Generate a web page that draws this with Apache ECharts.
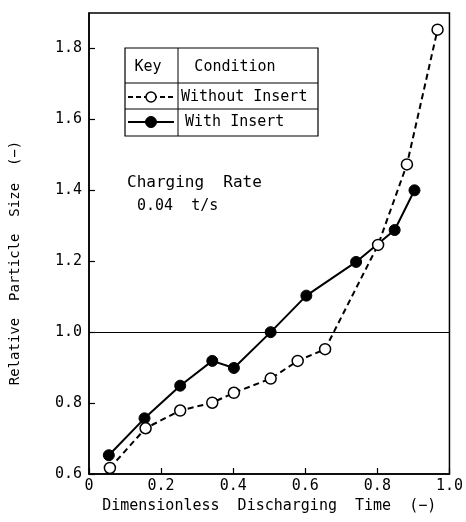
<!DOCTYPE html>
<html>
<head>
<meta charset="utf-8">
<script src="https://cdn.jsdelivr.net/npm/echarts@6/dist/echarts.min.js"></script>
<style>html,body{margin:0;padding:0;background:#fff}#c{width:466px;height:522px}</style>
</head>
<body>
<div id="c"></div>
<script>
var withoutX = [0.058, 0.157, 0.253, 0.342, 0.402, 0.504, 0.579, 0.655, 0.802, 0.882, 0.967];
var withoutY = [0.617, 0.729, 0.779, 0.801, 0.829, 0.869, 0.919, 0.952, 1.246, 1.473, 1.853];
var withX = [0.055, 0.154, 0.253, 0.342, 0.402, 0.504, 0.603, 0.741, 0.848, 0.903];
var withY = [0.653, 0.757, 0.849, 0.919, 0.899, 1.0, 1.103, 1.198, 1.288, 1.400];
var xTicks = [0, 0.2, 0.4, 0.6, 0.8, 1.0];
var yTicks = [0.6, 0.8, 1.0, 1.2, 1.4, 1.6, 1.8];
var refLine = 1.0;

function pairs(xs, ys){ return xs.map(function(x,i){ return [x, ys[i]]; }); }
var FONT = 'DejaVu Sans Mono';
var chart = echarts.init(document.getElementById('c'), null, {renderer:'canvas'});
var option = {
  animation:false,
  backgroundColor:'#fff',
  textStyle:{fontFamily:FONT, color:'#000'},
  grid:{left:89, right:14, top:13, bottom:48, show:true, borderColor:'#000', borderWidth:1.5, backgroundColor:'transparent'},
  xAxis:{
    type:'value', min:0, max:1.0, interval:0.2,
    name:'Dimensionless  Discharging  Time  (\u2212)', nameLocation:'middle', nameGap:23,
    nameTextStyle:{fontFamily:FONT, fontSize:15, color:'#000'},
    axisLine:{show:true, lineStyle:{color:'#000', width:1.5}},
    axisTick:{show:true, inside:true, length:6, lineStyle:{color:'#000', width:1.2}},
    splitLine:{show:false},
    axisLabel:{fontFamily:FONT, fontSize:15, color:'#000', margin:5,
      formatter:function(v){ return xTicks.indexOf(+v.toFixed(1))<0 ? '' : (v===0?'0':v.toFixed(1)); }}
  },
  yAxis:{
    type:'value', min:0.6, max:1.9, interval:0.2,
    axisLine:{show:true, lineStyle:{color:'#000', width:1.5}},
    axisTick:{show:true, inside:true, length:6, lineStyle:{color:'#000', width:1.2}},
    splitLine:{show:false},
    axisLabel:{fontFamily:FONT, fontSize:15, color:'#000', margin:7, showMaxLabel:false,
      formatter:function(v){ var r=+v.toFixed(1); return yTicks.indexOf(r)<0 ? '' : r.toFixed(1); }}
  },
  series:[
    {
      name:'With Insert', type:'line', data:pairs(withX, withY),
      symbol:'circle', symbolSize:11,
      lineStyle:{color:'#000', width:2},
      itemStyle:{color:'#000', borderColor:'#000', borderWidth:1},
      markLine:{silent:true, symbol:'none', label:{show:false},
        lineStyle:{color:'#000', width:1, type:'solid'}, data:[{yAxis:refLine}]},
      z:3
    },
    {
      name:'Without Insert', type:'line', data:pairs(withoutX, withoutY),
      symbol:'circle', symbolSize:11,
      lineStyle:{color:'#000', width:2, type:[6,4]},
      itemStyle:{color:'#fff', borderColor:'#000', borderWidth:1.5},
      z:4
    }
  ],
  graphic:[
    {type:'text', x:15, y:263, rotation:Math.PI/2, style:{text:'Relative  Particle  Size  (\u2212)', textAlign:'center', textVerticalAlign:'middle', font:'14px "DejaVu Sans Mono"', fill:'#000'}, z:11},
    {type:'rect', shape:{x:125, y:48, width:193, height:88}, style:{fill:'#fff', stroke:'#000', lineWidth:1.2}, z:10},
    {type:'line', shape:{x1:125, y1:83, x2:318, y2:83}, style:{stroke:'#000', lineWidth:1}, z:11},
    {type:'line', shape:{x1:125, y1:109, x2:318, y2:109}, style:{stroke:'#000', lineWidth:1}, z:11},
    {type:'line', shape:{x1:178, y1:48, x2:178, y2:136}, style:{stroke:'#000', lineWidth:1}, z:11},
    {type:'text', style:{text:'Key', x:148, y:67, textAlign:'center', textVerticalAlign:'middle', font:'15px "DejaVu Sans Mono"', fill:'#000'}, z:11},
    {type:'text', style:{text:'Condition', x:235, y:67, textAlign:'center', textVerticalAlign:'middle', font:'15px "DejaVu Sans Mono"', fill:'#000'}, z:11},
    {type:'text', style:{text:'Without Insert', x:181, y:97, textAlign:'left', textVerticalAlign:'middle', font:'15px "DejaVu Sans Mono"', fill:'#000'}, z:11},
    {type:'text', style:{text:'With Insert', x:185, y:122, textAlign:'left', textVerticalAlign:'middle', font:'15px "DejaVu Sans Mono"', fill:'#000'}, z:11},
    {type:'line', shape:{x1:128, y1:97, x2:174, y2:97}, style:{stroke:'#000', lineWidth:2, lineDash:[5,3]}, z:11},
    {type:'circle', shape:{cx:151, cy:97, r:5}, style:{fill:'#fff', stroke:'#000', lineWidth:1.5}, z:12},
    {type:'line', shape:{x1:128, y1:122, x2:174, y2:122}, style:{stroke:'#000', lineWidth:2}, z:11},
    {type:'circle', shape:{cx:151, cy:122, r:5.5}, style:{fill:'#000', stroke:'#000', lineWidth:1}, z:12},
    {type:'text', style:{text:'Charging  Rate', x:127, y:183, textAlign:'left', textVerticalAlign:'middle', font:'16px "DejaVu Sans Mono"', fill:'#000'}, z:11},
    {type:'text', style:{text:'0.04  t/s', x:137, y:206, textAlign:'left', textVerticalAlign:'middle', font:'15px "DejaVu Sans Mono"', fill:'#000'}, z:11}
  ]
};
chart.setOption(option);
</script>
</body>
</html>
